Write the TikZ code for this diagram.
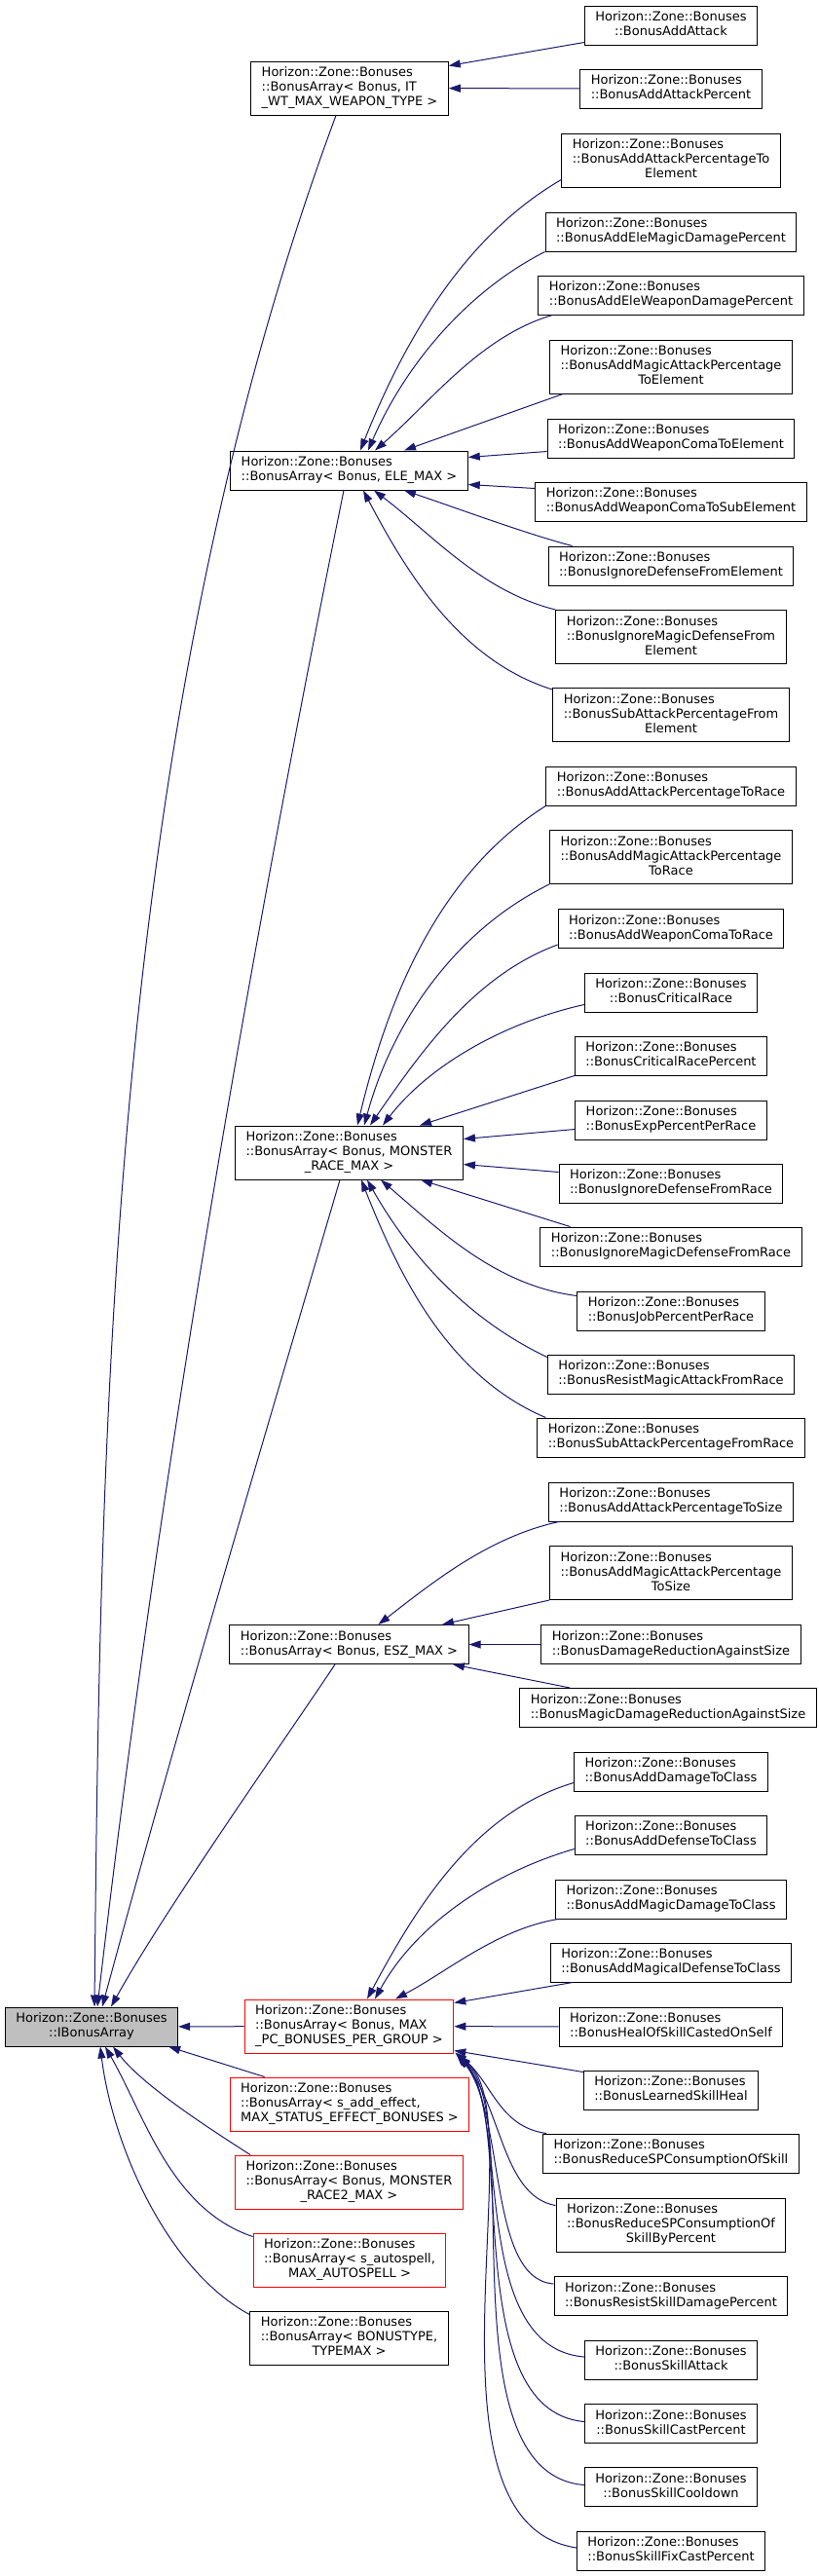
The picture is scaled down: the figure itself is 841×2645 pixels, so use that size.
\documentclass[tikz,border=0pt]{standalone}
\usepackage{fontspec}
\setmainfont{DejaVu Sans}
\usepackage{xcolor}
\usepackage{tikz}
\usetikzlibrary{arrows.meta,calc}
\definecolor{midblue}{HTML}{191970}
\definecolor{grey75}{HTML}{BFBFBF}
\newcommand{\clsii}[1]{\begin{tabular}{@{}l@{}}Horizon::Zone::Bonuses\\\multicolumn{1}{@{}c@{}}{#1}\end{tabular}}
\newcommand{\clsiii}[2]{\begin{tabular}{@{}l@{}}Horizon::Zone::Bonuses\\#1\\\multicolumn{1}{@{}c@{}}{#2}\end{tabular}}

\begin{document}
\begin{tikzpicture}[x=0.75pt, y=-0.75pt,
    cls/.style={draw=black, line width=0.75pt, fill=white, inner xsep=8.25pt, inner ysep=3.75pt,
        font=\fontsize{9.75pt}{11.25pt}\selectfont},
    redcls/.style={cls, draw=red},
    basecls/.style={cls, fill=grey75},
    inherits/.style={draw=midblue, line width=0.75pt, -{Triangle[length=9pt, width=6pt]}}]
    \useasboundingbox (0,0) rectangle (841,2645);

    % Base class and template instances
    \node[basecls] (IBonus) at (94,2081) {\clsii{::IBonusArray}};
    \node[cls] (BAit) at (359,90.5) {\clsiii{::BonusArray< Bonus, IT}{\_WT\_MAX\_WEAPON\_TYPE >}};
    \node[cls] (BAele) at (358.5,483) {\clsii{::BonusArray< Bonus, ELE\_MAX >}};
    \node[cls] (BArace) at (358.5,1183.5) {\clsiii{::BonusArray< Bonus, MONSTER}{\_RACE\_MAX >}};
    \node[cls] (BAesz) at (358.5,1688.5) {\clsii{::BonusArray< Bonus, ESZ\_MAX >}};
    \node[redcls] (BApc) at (358.5,2080.5) {\clsiii{::BonusArray< Bonus, MAX}{\_PC\_BONUSES\_PER\_GROUP >}};
    \node[redcls] (BAsae) at (359,2160.5) {\clsiii{::BonusArray< s\_add\_effect,}{MAX\_STATUS\_EFFECT\_BONUSES >}};
    \node[redcls] (BArace2) at (358.5,2240.5) {\clsiii{::BonusArray< Bonus, MONSTER}{\_RACE2\_MAX >}};
    \node[redcls] (BAauto) at (359,2320.5) {\clsiii{::BonusArray< s\_autospell,}{MAX\_AUTOSPELL >}};
    \node[cls] (BAtype) at (358.5,2400.5) {\clsiii{::BonusArray< BONUSTYPE,}{TYPEMAX >}};

    % Weapon type bonuses
    \node[cls] (AddAttack) at (689,26) {\clsii{::BonusAddAttack}};
    \node[cls] (AddAttackPct) at (689,91) {\clsii{::BonusAddAttackPercent}};

    % Element bonuses
    \node[cls] (AddAtkPctElem) at (689,164.5) {\clsiii{::BonusAddAttackPercentageTo}{Element}};
    \node[cls] (AddEleMagic) at (689,238) {\clsii{::BonusAddEleMagicDamagePercent}};
    \node[cls] (AddEleWeapon) at (689,303) {\clsii{::BonusAddEleWeaponDamagePercent}};
    \node[cls] (AddMagicAtkElem) at (689,376.5) {\clsiii{::BonusAddMagicAttackPercentage}{ToElement}};
    \node[cls] (AddComaElem) at (689,450) {\clsii{::BonusAddWeaponComaToElement}};
    \node[cls] (AddComaSubElem) at (689,515) {\clsii{::BonusAddWeaponComaToSubElement}};
    \node[cls] (IgnDefElem) at (689,581) {\clsii{::BonusIgnoreDefenseFromElement}};
    \node[cls] (IgnMagicDefElem) at (689,654) {\clsiii{::BonusIgnoreMagicDefenseFrom}{Element}};
    \node[cls] (SubAtkPctElem) at (689,734) {\clsiii{::BonusSubAttackPercentageFrom}{Element}};

    % Race bonuses
    \node[cls] (AddAtkPctRace) at (689,807) {\clsii{::BonusAddAttackPercentageToRace}};
    \node[cls] (AddMagicAtkRace) at (689,880) {\clsiii{::BonusAddMagicAttackPercentage}{ToRace}};
    \node[cls] (AddComaRace) at (689,953.5) {\clsii{::BonusAddWeaponComaToRace}};
    \node[cls] (CritRace) at (689,1019) {\clsii{::BonusCriticalRace}};
    \node[cls] (CritRacePct) at (689,1084) {\clsii{::BonusCriticalRacePercent}};
    \node[cls] (ExpPctRace) at (689,1150) {\clsii{::BonusExpPercentPerRace}};
    \node[cls] (IgnDefRace) at (689,1215) {\clsii{::BonusIgnoreDefenseFromRace}};
    \node[cls] (IgnMagicDefRace) at (689,1280) {\clsii{::BonusIgnoreMagicDefenseFromRace}};
    \node[cls] (JobPctRace) at (689,1346) {\clsii{::BonusJobPercentPerRace}};
    \node[cls] (ResistMagicRace) at (689,1411) {\clsii{::BonusResistMagicAttackFromRace}};
    \node[cls] (SubAtkPctRace) at (689,1476) {\clsii{::BonusSubAttackPercentageFromRace}};

    % Size bonuses
    \node[cls] (AddAtkPctSize) at (689,1542) {\clsii{::BonusAddAttackPercentageToSize}};
    \node[cls] (AddMagicAtkSize) at (689,1615) {\clsiii{::BonusAddMagicAttackPercentage}{ToSize}};
    \node[cls] (DmgRedSize) at (689,1688.5) {\clsii{::BonusDamageReductionAgainstSize}};
    \node[cls] (MagicDmgRedSize) at (686,1753.5) {\clsii{::BonusMagicDamageReductionAgainstSize}};

    % Class and skill bonuses
    \node[cls] (AddDmgClass) at (689,1819) {\clsii{::BonusAddDamageToClass}};
    \node[cls] (AddDefClass) at (689,1884) {\clsii{::BonusAddDefenseToClass}};
    \node[cls] (AddMagicDmgClass) at (689,1950) {\clsii{::BonusAddMagicDamageToClass}};
    \node[cls] (AddMagicalDefClass) at (689,2015) {\clsii{::BonusAddMagicalDefenseToClass}};
    \node[cls] (HealSkillSelf) at (689,2081) {\clsii{::BonusHealOfSkillCastedOnSelf}};
    \node[cls] (LearnedSkillHeal) at (689,2146) {\clsii{::BonusLearnedSkillHeal}};
    \node[cls] (ReduceSP) at (689,2211) {\clsii{::BonusReduceSPConsumptionOfSkill}};
    \node[cls] (ReduceSPPct) at (689,2284.5) {\clsiii{::BonusReduceSPConsumptionOf}{SkillByPercent}};
    \node[cls] (ResistSkillDmg) at (689,2357.5) {\clsii{::BonusResistSkillDamagePercent}};
    \node[cls] (SkillAttack) at (689,2423) {\clsii{::BonusSkillAttack}};
    \node[cls] (SkillCastPct) at (689,2488.5) {\clsii{::BonusSkillCastPercent}};
    \node[cls] (SkillCooldown) at (689,2553.5) {\clsii{::BonusSkillCooldown}};
    \node[cls] (SkillFixCastPct) at (689,2619) {\clsii{::BonusSkillFixCastPercent}};

    % IT_WT_MAX_WEAPON_TYPE
    \draw[inherits] ($(AddAttack.south west)+(0,-3)$) -- ($(BAit.north east)+(0,5)$);
    \draw[inherits] (AddAttackPct) -- (BAit);

    % ELE_MAX
    \draw[inherits] ($(AddAtkPctElem.south west)+(0,-8)$) .. controls (474,244) and (413,355) .. ($(BAele.north)+(11.5,0)$);
    \draw[inherits] (AddEleMagic.south west) .. controls (476,301) and (414,379) .. ($(BAele.north)+(19.5,0)$);
    \draw[inherits] ($(AddEleWeapon.south west)+(15,0)$) .. controls (493,345) and (441,414) .. ($(BAele.north)+(26.5,0)$);
    \draw[inherits] ($(AddMagicAtkElem.south west)+(14,0)$) -- ($(BAele.north)+(56.5,0)$);
    \draw[inherits] ($(AddComaElem.south west)+(0,-7)$) -- ($(BAele.north east)+(0,7)$);
    \draw[inherits] ($(AddComaSubElem.north west)+(0,7)$) -- ($(BAele.south east)+(0,-6)$);
    \draw[inherits] ($(IgnDefElem.north west)+(25,0)$) .. controls (540,548) and (470,522) .. ($(BAele.south)+(56.5,0)$);
    \draw[inherits] (IgnMagicDefElem.north west) .. controls (494,607) and (444,549) .. ($(BAele.south)+(25.5,0)$);
    \draw[inherits] ($(SubAtkPctElem.north west)+(0,2)$) .. controls (471,678) and (416,585) .. ($(BAele.south)+(14.5,0)$);

    % MONSTER_RACE_MAX
    \draw[inherits] (AddAtkPctRace.south west) .. controls (447,899) and (397,1031) .. ($(BArace.north)+(8.5,0)$);
    \draw[inherits] (AddMagicAtkRace.south west) .. controls (466,956) and (402,1052) .. ($(BArace.north)+(15.5,0)$);
    \draw[inherits] ($(AddComaRace.south west)+(0,-4)$) .. controls (486,1002) and (431,1082) .. ($(BArace.north)+(21.5,0)$);
    \draw[inherits] ($(CritRace.south west)+(0,-8)$) .. controls (521,1049) and (442,1092) .. ($(BArace.north)+(34.5,0)$);
    \draw[inherits] (CritRacePct.south west) -- ($(BArace.north)+(72.5,0)$);
    \draw[inherits] ($(ExpPctRace.south west)+(0,-11)$) -- ($(BArace.north east)+(0,14)$);
    \draw[inherits] ($(IgnDefRace.north west)+(0,9)$) -- ($(BArace.south east)+(0,-16)$);
    \draw[inherits] ($(IgnMagicDefRace.north west)+(31,0)$) -- ($(BArace.south)+(73.5,0)$);
    \draw[inherits] ($(JobPctRace.north west)+(0,5)$) .. controls (509,1320) and (450,1262) .. ($(BArace.south)+(32.5,0)$);
    \draw[inherits] ($(ResistMagicRace.north west)+(0,3)$) .. controls (479,1354) and (421,1289) .. ($(BArace.south)+(18.5,0)$);
    \draw[inherits] ($(SubAtkPctRace.north west)+(9,0)$) .. controls (460,1413) and (410,1310) .. ($(BArace.south)+(12.5,0)$);

    % ESZ_MAX
    \draw[inherits] ($(AddAtkPctSize.south west)+(11,0)$) .. controls (502,1578) and (444,1625) .. ($(BAesz.north)+(30,0)$);
    \draw[inherits] (AddMagicAtkSize.south west) -- ($(BAesz.north)+(95.5,0)$);
    \draw[inherits] (DmgRedSize) -- (BAesz);
    \draw[inherits] ($(MagicDmgRedSize.north west)+(52,0)$) -- ($(BAesz.south)+(106.5,0)$);

    % MAX_PC_BONUSES_PER_GROUP
    \draw[inherits] ($(AddDmgClass.south west)+(0,-9)$) .. controls (486,1861) and (426,1961) .. ($(BApc.north)+(18.5,0)$);
    \draw[inherits] ($(AddDefClass.south west)+(0,-6)$) .. controls (505,1923) and (427,1976) .. ($(BApc.north)+(26.5,0)$);
    \draw[inherits] ($(AddMagicDmgClass.south west)+(3,0)$) .. controls (510,1981) and (460,2024) .. ($(BApc.north)+(47.5,0)$);
    \draw[inherits] ($(AddMagicalDefClass.south west)+(23,0)$) -- ($(BApc.north east)+(0,4)$);
    \draw[inherits] (HealSkillSelf) -- (BApc);
    \draw[inherits] ($(LearnedSkillHeal.north west)+(0,2)$) -- ($(BApc.south east)+(0,-3)$);
    \draw[inherits] ($(ReduceSP.north west)+(4,0)$) .. controls (512,2184) and (505,2137) .. ($(BApc.south east)+(1,-1)$);
    \draw[inherits] ($(ReduceSPPct.north west)+(0,8)$) .. controls (515,2255) and (515,2160) .. ($(BApc.south east)+(2,0)$);
    \draw[inherits] ($(ResistSkillDmg.north west)+(0,8)$) .. controls (500,2340) and (520,2170) .. ($(BApc.south east)+(3,1)$);
    \draw[inherits] ($(SkillAttack.west)+(0,-3)$) .. controls (480,2410) and (525,2170) .. ($(BApc.south east)+(4,2)$);
    \draw[inherits] ($(SkillCastPct.west)+(0,-2)$) .. controls (470,2475) and (530,2175) .. ($(BApc.south east)+(5,3)$);
    \draw[inherits] ($(SkillCooldown.west)+(0,-2)$) .. controls (455,2540) and (540,2175) .. ($(BApc.south east)+(5,3)$);
    \draw[inherits] ($(SkillFixCastPct.west)+(0,-3)$) .. controls (420,2590) and (550,2170) .. ($(BApc.south east)+(4,3)$);

    % IBonusArray
    \draw[inherits] ($(BAit.south)+(-14,0)$) .. controls (115,739) and (103,1442) .. ($(IBonus.north)+(3,0)$);
    \draw[inherits] ($(BAele.south)+(-5.5,0)$) .. controls (248,1021) and (160,1543) .. ($(IBonus.north)+(6,0)$);
    \draw[inherits] ($(BArace.south)+(-9.5,0)$) .. controls (262,1508) and (182,1776) .. ($(IBonus.north)+(11,0)$);
    \draw[inherits] ($(BAesz.south)+(-14.5,0)$) .. controls (290,1790) and (170,1960) .. ($(IBonus.north)+(20,0)$);
    \draw[inherits] (BApc) -- (IBonus);
    \draw[inherits] ($(BAsae.north west)+(36,0)$) -- ($(IBonus.south east)+(-10,0)$);
    \draw[inherits] ($(BArace2.north west)+(16,0)$) .. controls (230,2195) and (150,2145) .. ($(IBonus.south)+(22,0)$);
    \draw[inherits] ($(BAauto.north west)+(0,4)$) .. controls (175,2268) and (148,2171) .. ($(IBonus.south)+(14,0)$);
    \draw[inherits] ($(BAtype.north west)+(0,4)$) .. controls (170,2330) and (115,2200) .. ($(IBonus.south)+(9,0)$);
\end{tikzpicture}
\end{document}
